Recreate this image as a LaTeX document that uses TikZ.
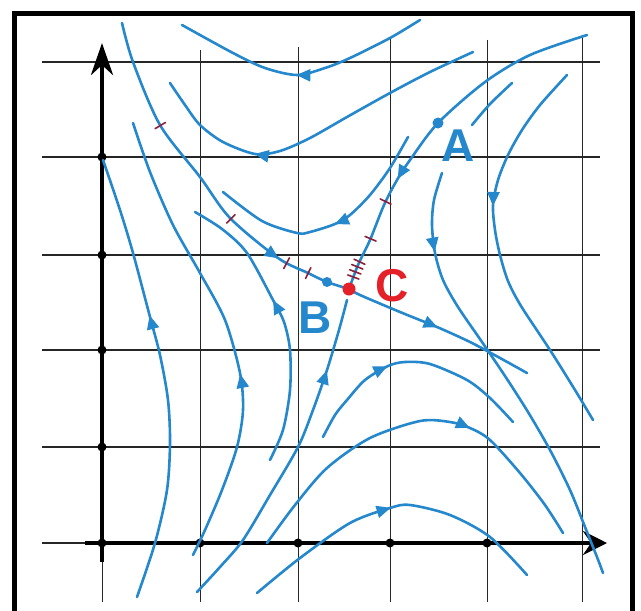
\documentclass[tikz,border=0pt]{standalone}
\usepackage{fontspec}
\setsansfont{Liberation Sans}
\usetikzlibrary{decorations.markings,arrows.meta}
\definecolor{flowblue}{RGB}{38,136,204}
\definecolor{ptred}{RGB}{228,32,40}
\definecolor{tickred}{RGB}{140,30,55}
\tikzset{
  flow/.style={flowblue,line width=1.3pt,line cap=round},
  gridline/.style={black!85,line width=0.6pt},
  axisline/.style={black,line width=2.2pt},
  arr/.style={postaction={decorate,decoration={markings,
      mark=at position #1 with {\arrow[flowblue]{Triangle[length=7pt,width=6pt]}}}}},
  tickmark/.style={tickred,line width=0.8pt},
  lbl/.style={font=\sffamily\bfseries\fontsize{23}{23}\selectfont,inner sep=0pt},
  axdot/.style={circle,fill=black,inner sep=0pt,minimum size=4.5pt}
}
\begin{document}
\begin{tikzpicture}[x=0.5pt,y=-0.5pt]
\useasboundingbox (0,0) rectangle (641,610);
\fill[white] (0,0) rectangle (641,610);
% frame
\draw[line width=2.5pt] (14,612) -- (14,14) -- (632,14) -- (632,612);
% grid
\foreach \yy in {62,157,255,350,447,543}
  \draw[gridline] (42,\yy) -- (600,\yy);
\foreach \xx/\top in {102/45,200/50,298/47,390/38,487/40,582/37}
  \draw[gridline,line width=0.5pt] (\xx,\top) -- (\xx,602);
% axes
\draw[axisline,-{Stealth[length=16pt,width=11pt,inset=5pt]}] (102,562) -- (102,43);
\draw[axisline,-{Stealth[length=12pt,width=12pt,inset=4pt]}] (85,543) -- (607,543);
\foreach \p in {(102,157),(102,255),(102,350),(102,447),(102,543),(200,543),(298,543),(390,543),(487,543)}
  \node[axdot] at \p {};

% top family (flow to the left)
\draw[flow,arr=0.52] plot[smooth] coordinates {(420,20) (390,38) (350,58) (325,68) (297,75) (265,68) (233,53) (182,25)};
\draw[flow,arr=0.68] plot[smooth] coordinates {(473,52) (430,72) (390,93) (347,117) (310,138) (280,151) (255,154) (223,142) (200,125) (185,105) (170,83)};
\draw[flow,arr=0.48] plot[smooth] coordinates {(408,137) (390,168) (370,195) (350,215) (335,224) (310,232) (297,233) (262,221) (223,192)};

% left family (flow upward)
\draw[flow,arr=0.64] plot[smooth] coordinates {(137,597) (155,543) (167,490) (170,443) (168,400) (160,355) (150,317) (133,253) (120,210) (103,160)};
\draw[flow,arr=0.41] plot[smooth] coordinates {(193,555) (205,530) (222,490) (237,447) (243,410) (240,373) (225,320) (200,273) (173,225) (150,172) (133,123)};
\draw[flow,arr=0.58] plot[smooth] coordinates {(270,460) (283,430) (290,390) (290,350) (284,322) (273,300) (247,253) (222,229) (195,212)};

% right family (flow downward)
\draw[flow,arr=0.18] plot[smooth] coordinates {(442,173) (434,200) (432,225) (435,253) (443,280) (458,307) (482,342) (505,376) (528,412) (550,450) (570,490) (585,527) (597,557) (603,573)};
\draw[flow] plot[smooth] coordinates {(472,125) (490,104) (512,83)};
\draw[flow,arr=0.39] plot[smooth] coordinates {(567,75) (540,105) (522,130) (508,155) (498,180) (493,205) (495,230) (500,255) (508,281) (521,306) (550,350) (575,390) (593,420)};

% bottom family (flow to the right)
\draw[flow,arr=0.40] plot[smooth] coordinates {(323,437) (335,415) (347,400) (365,380) (388,366) (405,362) (430,364) (467,380) (490,398) (513,422)};
\draw[flow,arr=0.64] plot[smooth] coordinates {(267,543) (295,505) (327,468) (370,438) (420,421) (450,422) (470,428) (490,440) (520,473) (545,505) (563,533)};
\draw[flow,arr=0.50] plot[smooth] coordinates {(257,593) (300,558) (350,523) (390,508) (410,505) (450,515) (490,537) (527,575)};

% separatrices
\draw[flow,arr=0.79,postaction={decorate,decoration={markings,
   mark=at position 0.30 with {\draw[tickmark] (0pt,-3pt)--(0pt,3pt);},
   mark=at position 0.62 with {\draw[tickmark] (0pt,-3pt)--(0pt,3pt);},
   mark=at position 0.815 with {\draw[tickmark] (0pt,-3pt)--(0pt,3pt);},
   mark=at position 0.88 with {\draw[tickmark] (0pt,-3pt)--(0pt,3pt);}}}]
  plot[smooth] coordinates {(122,23) (133,62) (160,125) (200,177) (230,218) (278,258) (308,273) (327,282) (349,289)};
\draw[flow,arr=0.67,postaction={decorate,decoration={markings,
   mark=at position 0.74 with {\draw[tickmark] (0pt,-3pt)--(0pt,3pt);},
   mark=at position 0.85 with {\draw[tickmark] (0pt,-3pt)--(0pt,3pt);},
   mark=at position 0.92 with {\draw[tickmark] (0pt,-3pt)--(0pt,3pt);},
   mark=at position 0.935 with {\draw[tickmark] (0pt,-3pt)--(0pt,3pt);},
   mark=at position 0.95 with {\draw[tickmark] (0pt,-3pt)--(0pt,3pt);},
   mark=at position 0.965 with {\draw[tickmark] (0pt,-3pt)--(0pt,3pt);}}}]
  plot[smooth] coordinates {(587,35) (530,55) (485,82) (438,123) (410,160) (397,180) (384,205) (370,240) (358,265) (349,289)};
\draw[flow,arr=0.49] plot[smooth] coordinates {(349,289) (360,295) (400,312) (437,327) (470,342) (500,358) (527,373)};
\draw[flow,arr=0.78] plot[smooth] coordinates {(197,592) (220,567) (243,540) (270,495) (298,447) (313,410) (327,370) (339,330) (347,300)};

% points
\node[circle,fill=flowblue,inner sep=0pt,minimum size=5.5pt] (A) at (438,123) {};
\node[circle,fill=flowblue,inner sep=0pt,minimum size=5pt] (B) at (327,282) {};
\node[circle,fill=ptred,inner sep=0pt,minimum size=6.5pt] (C) at (349,289) {};
\node[lbl,text=flowblue] (labA) at (458,146) {A};
\node[lbl,text=flowblue] (labB) at (315,318) {B};
\node[lbl,text=ptred] (labC) at (392,286) {C};
\end{tikzpicture}
\end{document}
